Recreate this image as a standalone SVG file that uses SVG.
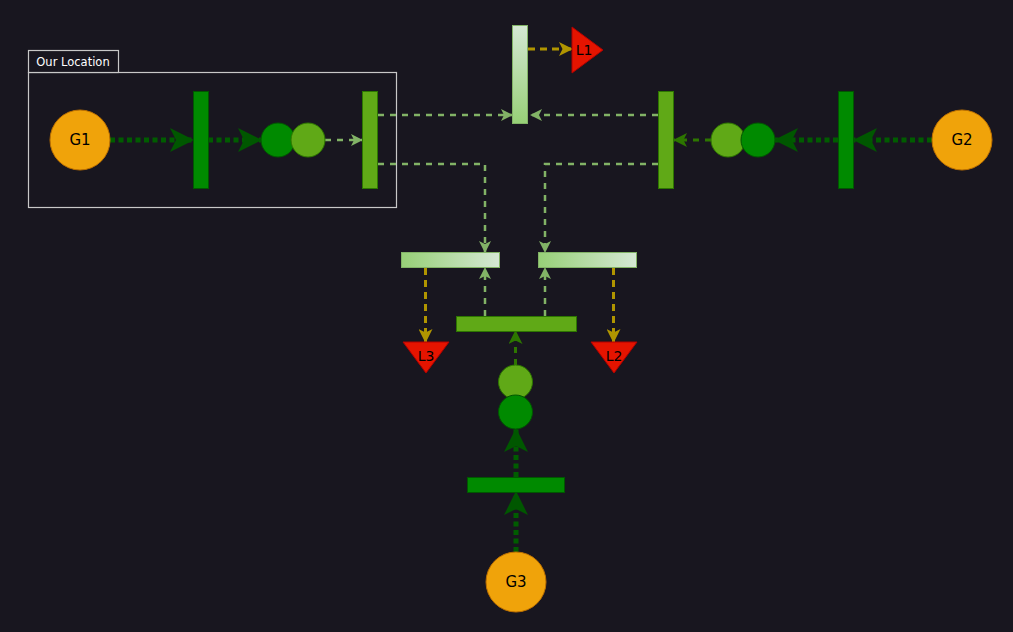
<svg xmlns="http://www.w3.org/2000/svg" width="1013" height="632" viewBox="0 0 1013 632">
<style>
.gnode{fill:#f0a30a;stroke:#bd7000;stroke-width:1}
.gtxt{font-family:"Comic Sans MS","DejaVu Sans",sans-serif;font-size:15px;fill:#000;text-anchor:middle;dominant-baseline:central}
.ltxt{font-family:"DejaVu Sans","Liberation Sans",sans-serif;font-size:14px;fill:#000;text-anchor:middle;dominant-baseline:central}
.dk{fill:#008a00;stroke:#005700;stroke-width:1}
.lt{fill:#60a917;stroke:#2d7600;stroke-width:1}
.red{fill:#e51400;stroke:#b20000;stroke-width:1}
.thick{fill:none;stroke:#005c00;stroke-width:5;stroke-dasharray:5 3.5}
.pale{fill:none;stroke:#82b366;stroke-width:2.5;stroke-dasharray:6 6}
.mid{fill:none;stroke:#2d7600;stroke-width:3;stroke-dasharray:6 6}
.yel{fill:none;stroke:#b09500;stroke-width:3;stroke-dasharray:7 5}
</style>
<defs>
<linearGradient id="gv" x1="0" y1="0" x2="0" y2="1"><stop offset="0" stop-color="#d5e8d4"/><stop offset="1" stop-color="#97d077"/></linearGradient>
<linearGradient id="gh" x1="0" y1="0" x2="1" y2="0"><stop offset="0" stop-color="#97d077"/><stop offset="1" stop-color="#d5e8d4"/></linearGradient>
<marker id="aThick" viewBox="0 0 24 24" markerWidth="24" markerHeight="24" refX="23" refY="12" orient="auto" markerUnits="userSpaceOnUse"><path d="M24,12 L0,0 L6,12 L0,24 Z" fill="#005700"/></marker>
<marker id="aPale" viewBox="0 0 12 12" markerWidth="12" markerHeight="12" refX="11" refY="6" orient="auto" markerUnits="userSpaceOnUse"><path d="M12,6 L0,0 L3,6 L0,12 Z" fill="#82b366"/></marker>
<marker id="aMid" viewBox="0 0 14 14" markerWidth="14" markerHeight="14" refX="13" refY="7" orient="auto" markerUnits="userSpaceOnUse"><path d="M14,7 L0,0 L3.5,7 L0,14 Z" fill="#2d7600"/></marker>
<marker id="aYel" viewBox="0 0 14 14" markerWidth="14" markerHeight="14" refX="13" refY="7" orient="auto" markerUnits="userSpaceOnUse"><path d="M14,7 L0,0 L3.5,7 L0,14 Z" fill="#b09500"/></marker>
</defs>
<rect x="0" y="0" width="1013" height="632" fill="#18161f"/>

<g id="our-location">
<rect x="28.5" y="72.5" width="368" height="135" fill="none" stroke="#c8c8c8" stroke-width="1.2"/>
<rect x="28.5" y="50.5" width="90" height="22" fill="#18161f" stroke="#c8c8c8" stroke-width="1.2"/>
<text x="73" y="62" font-family="'Comic Sans MS','DejaVu Sans',sans-serif" font-size="11.5" fill="#fff" text-anchor="middle" dominant-baseline="central">Our Location</text>
</g>

<g id="connectors">
<path class="thick" d="M110,140 L193,140" marker-end="url(#aThick)"/>
<path class="thick" d="M208,140 L261,140" marker-end="url(#aThick)"/>
<path class="pale" d="M325,140 L362,140" marker-end="url(#aPale)"/>
<path class="pale" d="M378,115 L512,115" marker-end="url(#aPale)"/>
<path class="pale" d="M378,164 L485,164 L485,252" marker-end="url(#aPale)"/>
<path class="pale" d="M658,115 L531,115" marker-end="url(#aPale)"/>
<path class="pale" d="M658,164 L545,164 L545,252" marker-end="url(#aPale)"/>
<path class="pale" d="M485,316 L485,268" marker-end="url(#aPale)"/>
<path class="pale" d="M545,316 L545,268" marker-end="url(#aPale)"/>
<path class="yel" d="M528,49 L572,49" marker-end="url(#aYel)"/>
<path class="yel" d="M425.5,268 L425.5,342" marker-end="url(#aYel)"/>
<path class="yel" d="M613.5,268 L613.5,342" marker-end="url(#aYel)"/>
<path class="thick" d="M932,140 L854,140" marker-end="url(#aThick)"/>
<path class="thick" d="M838,140 L775,140" marker-end="url(#aThick)"/>
<path class="mid" d="M711,140 L674,140" marker-end="url(#aMid)"/>
<path class="thick" d="M516,552 L516,492" marker-end="url(#aThick)"/>
<path class="thick" d="M516,477 L516,429" marker-end="url(#aThick)"/>
<path class="mid" d="M515.5,365 L515.5,331" marker-end="url(#aMid)"/>
</g>

<g id="G1"><circle class="gnode" cx="80" cy="140" r="30"/><text class="gtxt" x="80" y="140">G1</text></g>
<g id="G2"><circle class="gnode" cx="962" cy="140" r="30"/><text class="gtxt" x="962" y="140">G2</text></g>
<g id="G3"><circle class="gnode" cx="516" cy="582" r="30"/><text class="gtxt" x="516" y="582">G3</text></g>

<g id="bar-left-1"><rect class="dk" x="193.5" y="91.5" width="15" height="97"/></g>
<g id="circle-left-dark"><circle class="dk" cx="278" cy="140" r="17"/></g>
<g id="circle-left-light"><circle class="lt" cx="308" cy="140" r="17"/></g>
<g id="bar-left-2"><rect class="lt" x="362.5" y="91.5" width="15" height="97"/></g>

<g id="bar-right-2"><rect class="lt" x="658.5" y="91.5" width="15" height="97"/></g>
<g id="circle-right-light"><circle class="lt" cx="728" cy="140" r="17"/></g>
<g id="circle-right-dark"><circle class="dk" cx="758" cy="140" r="17"/></g>
<g id="bar-right-1"><rect class="dk" x="838.5" y="91.5" width="15" height="97"/></g>

<g id="bar-top"><rect x="512.5" y="25.5" width="15" height="98" fill="url(#gv)" stroke="#82b366"/></g>
<g id="L1"><polygon class="red" points="572,27 603,50 572,73"/><text class="ltxt" x="584" y="50">L1</text></g>

<g id="bar-mid-left"><rect x="401.5" y="252.5" width="98" height="15" fill="url(#gh)" stroke="#82b366"/></g>
<g id="bar-mid-right"><rect x="538.5" y="252.5" width="98" height="15" fill="url(#gh)" stroke="#82b366"/></g>
<g id="bar-bottom-light"><rect class="lt" x="456.5" y="316.5" width="120" height="15"/></g>

<g id="L3"><polygon class="red" points="403,342 449,342 426,373"/><text class="ltxt" x="426" y="356">L3</text></g>
<g id="L2"><polygon class="red" points="591,342 637,342 614,373"/><text class="ltxt" x="614" y="356">L2</text></g>

<g id="circle-bottom-light"><circle class="lt" cx="515.5" cy="382" r="17"/></g>
<g id="circle-bottom-dark"><circle class="dk" cx="515.5" cy="412" r="17"/></g>
<g id="bar-bottom-dark"><rect class="dk" x="467.5" y="477.5" width="97" height="15"/></g>
</svg>
